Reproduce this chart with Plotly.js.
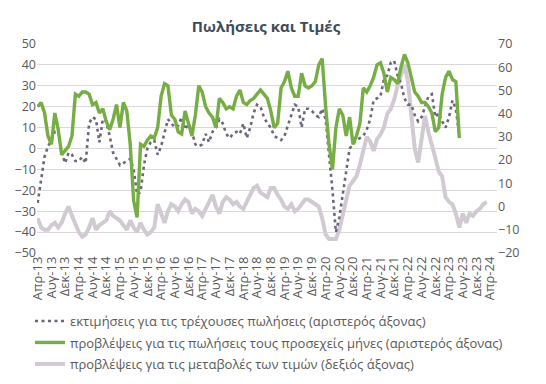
<!DOCTYPE html>
<html>
<head>
<meta charset="utf-8">
<script src="https://cdn.plot.ly/plotly-3.0.1.min.js"></script>
<style>
  html, body { margin: 0; padding: 0; background: #ffffff; }
  #chart { width: 546px; height: 384px; }
</style>
</head>
<body>
<div id="chart"></div>
<script>
// Monthly series, starting Απρ-13
const currentSales = [
  -26,-15,-4,1,4,8,8,-2,-7,-2,-3,-6,-6,-4,-7,12,15,14,3,14,
  13,6,-2,-5,-8,-7,-6,-5,-10,-22,-21,-8,0,3,4,-3,1,8,14,12,10,11,15,
  9,12,8,2,1,2,7,3,8,10,14,12,7,5,7,8,7,12,5,10,17,21,20,15,12,10,6,5,4,6,11,16,
  21,20,10,19,19,18,16,15,19,14,-2,-20,-40,-33,-22,-12,0,2,4,5,6,9,14,23,24,25,33,35,41,42,35,31,24,21,21,16,13,15,20,25,26,
  15,17,13,10,15,23,19,6
];
const salesExpectations = [
  20,22,17,6,2,17,9,-3,-1,1,6,26,25,27,27,26,21,22,17,19,
  13,9,14,21,10,22,18,2,-25,-33,2,1,4,6,5,10,25,31,30,16,14,8,7,
  18,12,6,16,30,27,20,17,15,10,24,22,19,20,19,25,28,22,21,23,24,26,28,26,24,18,10,12,29,32,37,29,
  25,25,36,30,29,30,32,40,43,20,2,-10,10,19,16,6,15,2,6,12,29,27,30,34,40,41,36,27,34,33,31,39,45,41,33,27,25,22,22,20,17,
  8,10,26,34,37,33,32,5
];
const priceExpectations = [
  -5,-9,-10,-10,-8,-7,-9,-7,-3,0,-4,-8,-11,-13,-12,-9,-5,-10,-8,-7,
  -6,-2,-4,-5,-6,-8,-10,-6,-9,-11,-7,-10,-12,-11,-9,1,-3,-7,-2,1,0,-2,1,
  3,2,-3,-1,-2,-4,-1,2,5,0,-3,2,4,3,1,2,0,-1,2,5,8,9,6,5,4,8,8,5,3,0,-1,1,
  -2,-1,1,3,3,2,1,0,-5,-12,-14,-14,-14,-10,-3,3,9,11,13,18,25,30,28,24,29,31,34,40,42,46,52,57,61,54,41,25,19,30,39,32,27,
  21,15,13,4,2,1,-3,-9,-3,-7,-3,-4,-2,-1,1,2
];
const tickLabels = ['Απρ-13','Αυγ-13','Δεκ-13','Απρ-14','Αυγ-14','Δεκ-14','Απρ-15','Αυγ-15','Δεκ-15',
  'Απρ-16','Αυγ-16','Δεκ-16','Απρ-17','Αυγ-17','Δεκ-17','Απρ-18','Αυγ-18','Δεκ-18','Απρ-19','Αυγ-19',
  'Δεκ-19','Απρ-20','Αυγ-20','Δεκ-20','Απρ-21','Αυγ-21','Δεκ-21','Απρ-22','Αυγ-22','Δεκ-22','Απρ-23',
  'Αυγ-23','Δεκ-23','Απρ-24'];
const seriesNames = [
  'εκτιμήσεις για τις τρέχουσες πωλήσεις (αριστερός άξονας)',
  'προβλέψεις για τις πωλήσεις τους προσεχείς μήνες (αριστερός άξονας)',
  'προβλέψεις για τις μεταβολές των τιμών (δεξιός άξονας)'
];
const chartTitle = 'Πωλήσεις και Τιμές';

const monthIndex = arr => arr.map((_, i) => i);
const tickVals = tickLabels.map((_, k) => 4 * k);

const FONT = 'Open Sans, Noto Sans, DejaVu Sans, sans-serif';

const traces = [
  {
    x: monthIndex(currentSales), y: currentSales, yaxis: 'y2', type: 'scatter', mode: 'lines',
    name: seriesNames[0], legendgroup: 'a',
    line: { color: '#6d6579', width: 2.6, dash: '3px,3.5px' }
  },
  {
    x: monthIndex(salesExpectations), y: salesExpectations, yaxis: 'y2', type: 'scatter', mode: 'lines',
    name: seriesNames[1], legendgroup: 'b',
    line: { color: '#76ad45', width: 3.4 }
  },
  {
    x: monthIndex(priceExpectations), y: priceExpectations, yaxis: 'y', type: 'scatter', mode: 'lines',
    name: seriesNames[2], legendgroup: 'c',
    line: { color: '#d2cad2', width: 4 }
  }
];

const layout = {
  width: 546, height: 384,
  paper_bgcolor: '#ffffff', plot_bgcolor: 'rgba(0,0,0,0)',
  margin: { l: 37, r: 49, t: 44, b: 131, pad: 0, autoexpand: false },
  font: { family: FONT, color: '#595959', size: 12 },
  title: {
    text: '<b>' + chartTitle + '</b>',
    font: { family: FONT, size: 15, color: '#404a58' },
    x: 266 / 546, xanchor: 'center', xref: 'container',
    y: 1 - 27 / 384, yanchor: 'middle', yref: 'container'
  },
  showlegend: true,
  legend: {
    orientation: 'v', xref: 'container', x: 30 / 546, xanchor: 'left',
    yref: 'container', y: 1 - 306 / 384, yanchor: 'top',
    traceorder: 'grouped', tracegroupgap: 1.6, itemwidth: 30,
    font: { family: FONT, size: 13, color: '#595959' },
    bgcolor: 'rgba(0,0,0,0)'
  },
  xaxis: {
    type: 'linear', range: [-0.2, 134], automargin: false,
    tickmode: 'array', tickvals: tickVals, ticktext: tickLabels,
    tickangle: -90, ticks: '', showgrid: false, zeroline: false, showline: false,
    tickfont: { family: FONT, size: 13, color: '#595959' }
  },
  yaxis: {
    side: 'right', range: [-20, 70], dtick: 10, tick0: 0, automargin: false,
    showgrid: false, zeroline: false, showline: false, ticks: '',
    tickfont: { family: FONT, size: 12.5, color: '#595959' }
  },
  yaxis2: {
    overlaying: 'y', side: 'left', range: [-50, 50], dtick: 10, tick0: 0, automargin: false,
    showgrid: true, gridcolor: '#d9d9d9', gridwidth: 1,
    zeroline: false, showline: false, ticks: '',
    tickfont: { family: FONT, size: 12.5, color: '#595959' }
  }
};

Plotly.newPlot('chart', traces, layout, { displayModeBar: false, staticPlot: true });
</script>
</body>
</html>
